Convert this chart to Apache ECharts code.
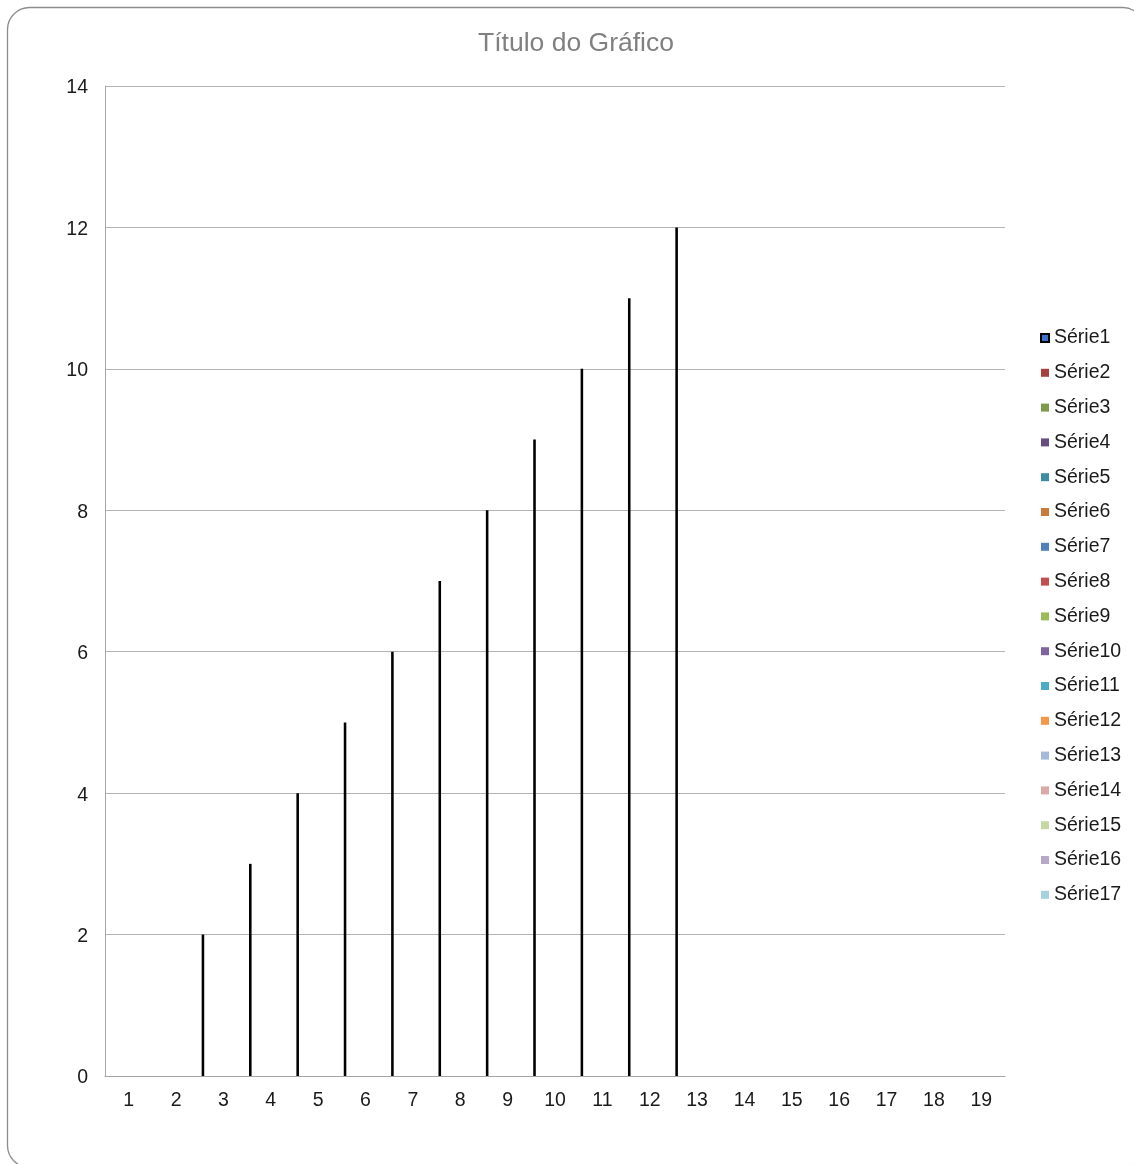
<!DOCTYPE html>
<html>
<head>
<meta charset="utf-8">
<script src="https://cdn.jsdelivr.net/npm/echarts@6/dist/echarts.min.js"></script>
<style>
html,body{margin:0;padding:0;background:#fff;}
#chart{width:1134px;height:1164px;}
</style>
</head>
<body>
<div id="chart"></div>
<script>
const titleText = 'Título do Gráfico';
const categories = ['1','2','3','4','5','6','7','8','9','10','11','12','13','14','15','16','17','18','19'];
const yTicks = [0, 2, 4, 6, 8, 10, 12, 14];
const seriesNames = ['Série1','Série2','Série3','Série4','Série5','Série6','Série7','Série8','Série9','Série10','Série11','Série12','Série13','Série14','Série15','Série16','Série17'];
const serie1 = [null, null, 2, 3, 4, 5, 6, 7, 8, 9, 10, 11, 12, null, null, null, null, null, null];
const otherSeries = [];
const seriesColors = ['#3a73c9','#a5423f','#7f9a48','#664e82','#3c8da3','#cc7a37','#4f81bd','#c0504d','#9bbb59','#8064a2','#4bacc6','#f79646','#a7b9d8','#dba9a8','#c5d7a4','#b7a8ca','#a5d2df'];

const chart = echarts.init(document.getElementById('chart'));
const FONT = '"Liberation Sans", Arial, sans-serif';

const series = seriesNames.map((name, i) => ({
  name: name,
  type: 'bar',
  data: i === 0 ? serie1 : otherSeries,
  barGap: '0%',
  barCategoryGap: '8.1%',
  itemStyle: i === 0
    ? { color: seriesColors[i], borderColor: '#000', borderWidth: 1.5 }
    : { color: seriesColors[i] },
  emphasis: { disabled: true },
  animation: false
}));

chart.setOption({
  animation: false,
  backgroundColor: '#fff',
  color: seriesColors,
  title: {
    text: titleText,
    left: 576,
    top: 30,
    padding: 0,
    textAlign: 'center',
    textStyle: { fontFamily: FONT, fontSize: 26.5, fontWeight: 'normal', color: '#808080' }
  },
  graphic: [{
    type: 'rect',
    silent: true,
    z: -10,
    shape: { x: 7.5, y: 7.5, width: 1137, height: 1160, r: 22 },
    style: { fill: 'none', stroke: '#8c8c8c', lineWidth: 1.3 }
  }],
  legend: {
    orient: 'vertical',
    left: 1040,
    top: 328,
    padding: 0,
    itemWidth: 8,
    itemHeight: 8,
    itemGap: 14.8,
    icon: 'rect',
    data: seriesNames,
    textStyle: { fontFamily: FONT, fontSize: 19.5, color: '#1a1a1a', lineHeight: 20 }
  },
  grid: { left: 105, right: 129, top: 86, bottom: 88, containLabel: false },
  xAxis: {
    type: 'category',
    data: categories,
    axisLine: { show: true, lineStyle: { color: '#a6a6a6', width: 1 } },
    axisTick: { show: false },
    axisLabel: { fontFamily: FONT, fontSize: 19.5, color: '#1a1a1a', margin: 15, interval: 0 },
    splitLine: { show: false }
  },
  yAxis: {
    type: 'value',
    min: yTicks[0],
    max: yTicks[yTicks.length - 1],
    interval: 2,
    axisLine: { show: true, lineStyle: { color: '#a6a6a6', width: 1 } },
    axisTick: { show: false },
    axisLabel: {
      fontFamily: FONT, fontSize: 19.5, color: '#1a1a1a', margin: 17,
      formatter: function (v) { return '{a|' + v + '}'; },
      rich: { a: { fontFamily: FONT, fontSize: 19.5, color: '#1a1a1a', padding: [4, 0, 0, 0] } }
    },
    splitLine: { show: true, lineStyle: { color: '#b3b3b3', width: 1 } }
  },
  series: series
});
</script>
</body>
</html>
